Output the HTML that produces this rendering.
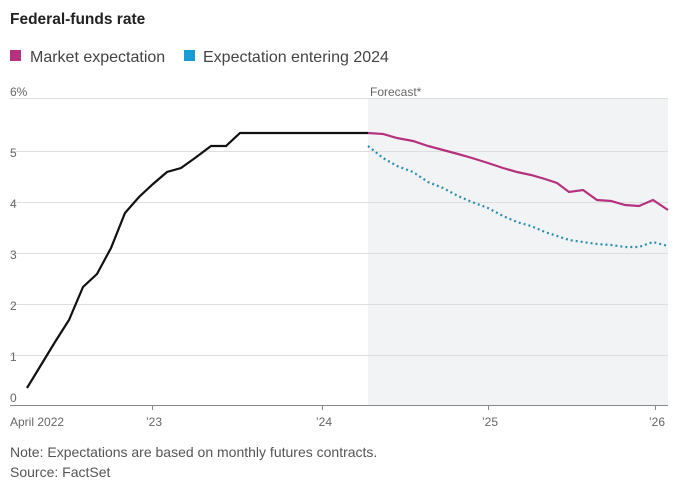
<!DOCTYPE html>
<html><head><style>
body{margin:0;background:#fff;width:685px;height:490px;overflow:hidden;font-family:"Liberation Sans",sans-serif}
</style></head><body>
<svg width="685" height="490" xmlns="http://www.w3.org/2000/svg" font-family="Liberation Sans, sans-serif">
<text x="10" y="24" font-size="15.5" font-weight="bold" fill="#222">Federal-funds rate</text>
<rect x="10" y="50" width="11" height="11" fill="#b5317e"/>
<text x="30" y="62" font-size="16" fill="#444">Market expectation</text>
<rect x="184" y="50" width="11" height="11" fill="#1a9bd1"/>
<text x="203" y="62" font-size="16" fill="#444">Expectation entering 2024</text>
<rect x="368" y="98" width="300" height="307" fill="#f2f3f5"/>
<g stroke="#dedede" stroke-width="1">
<line x1="10" y1="98.5" x2="668" y2="98.5"/>
<line x1="10" y1="151.5" x2="668" y2="151.5"/>
<line x1="10" y1="202.5" x2="668" y2="202.5"/>
<line x1="10" y1="253.5" x2="668" y2="253.5"/>
<line x1="10" y1="304.5" x2="668" y2="304.5"/>
<line x1="10" y1="355.5" x2="668" y2="355.5"/>
</g>
<line x1="10" y1="405.5" x2="668" y2="405.5" stroke="#888"/>
<g stroke="#888"><line x1="152.5" y1="405" x2="152.5" y2="410"/><line x1="322.5" y1="405" x2="322.5" y2="410"/><line x1="488.5" y1="405" x2="488.5" y2="410"/><line x1="655.5" y1="405" x2="655.5" y2="410"/></g>
<g font-size="12" fill="#666">
<text x="10" y="96">6%</text><text x="10" y="157">5</text><text x="10" y="208">4</text><text x="10" y="259">3</text><text x="10" y="310">2</text><text x="10" y="361">1</text><text x="10" y="402">0</text>
<text x="370" y="96">Forecast*</text>
<text x="10" y="426">April 2022</text><text x="146" y="426">’23</text><text x="316" y="426">’24</text><text x="482" y="426">’25</text><text x="649" y="426">’26</text>
</g>
<polyline fill="none" stroke="#111" stroke-width="2.2" points="27,388 41,365 55,342 69,320 83,287 97,274 111,248 125,213 139,197 153,184 167,172 181,168 195,158 211,146 226,146 240,133 368,133"/>
<polyline fill="none" stroke="#b5317e" stroke-width="2.2" points="368,133 383,134 397,138 413,141 428,146 443,150 458,154 472,158 488,163 503,168 517,172 531,175 545,179 557,183 569,192 583,190 597,200 611,201 625,205 639,206 653,200 668,210"/>
<polyline fill="none" stroke="#2a8fb0" stroke-width="2.2" stroke-dasharray="2 3" points="368,146 383,158 397,166 413,172 428,182 443,188 458,196 472,202 488,208 503,216 517,222 531,226 545,232 557,236 569,240 583,242 597,244 611,245 625,247 639,247 653,242 668,246"/>
<text x="10" y="457" font-size="14" fill="#555">Note: Expectations are based on monthly futures contracts.</text>
<text x="10" y="477" font-size="14" fill="#555">Source: FactSet</text>
</svg>
</body></html>
